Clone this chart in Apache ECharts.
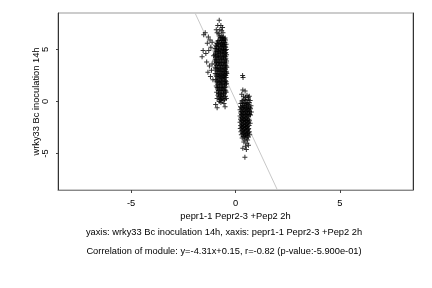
<!DOCTYPE html>
<html>
<head>
<meta charset="utf-8">
<script src="https://cdn.jsdelivr.net/npm/echarts@6/dist/echarts.min.js"></script>
<style>html,body{margin:0;padding:0;background:#fff}#c{width:432px;height:288px}</style>
</head>
<body>
<div id="c"></div>
<script>
var xTicks = [-5, 0, 5];
var yTicks = [-5, 0, 5];
var slope = -4.31, intercept = 0.15;
var xName = 'pepr1-1 Pepr2-3 +Pep2 2h';
var yName = 'wrky33 Bc inoculation 14h';
var subtitle1 = 'yaxis: wrky33 Bc inoculation 14h, xaxis: pepr1-1 Pepr2-3 +Pep2 2h';
var subtitle2 = 'Correlation of module: y=-4.31x+0.15, r=-0.82 (p-value:-5.900e-01)';

var cluster1 = [
[-0.78,7.8],[-0.85,7.3],[-0.70,7.3],[-0.62,7.1],[-0.92,6.9],[-0.75,6.9],[-0.66,6.8],[-0.88,6.6],[-0.60,6.6],[-0.80,6.5],
[-1.45,6.6],[-1.52,6.4],[-1.30,6.2],[-1.22,5.9],[-1.35,5.6],[-1.12,5.7],[-1.55,4.9],[-1.60,4.3],[-1.42,4.6],[-1.28,4.9],
[-1.18,5.2],[-1.38,3.8],[-1.25,3.4],[-1.15,3.0],[-1.32,2.8],[-1.20,2.4],[-1.08,2.1],[-1.12,3.6],[-1.05,4.4],
[-0.78,6.3],[-0.68,6.3],[-0.58,6.2],[-0.50,6.1],[-0.72,6.0],[-0.62,6.0],[-0.48,5.9],[-0.85,5.8],
[-0.90,5.6],[-0.76,5.7],[-0.66,5.6],[-0.55,5.7],[-0.45,5.5],[-0.95,5.4],[-0.82,5.4],[-0.70,5.3],[-0.60,5.4],[-0.50,5.3],
[-0.98,5.1],[-0.88,5.1],[-0.76,5.0],[-0.64,5.1],[-0.54,5.0],[-0.44,5.0],[-0.93,4.8],[-0.82,4.8],[-0.70,4.7],[-0.58,4.8],[-0.47,4.7],
[-0.99,4.5],[-0.87,4.5],[-0.75,4.4],[-0.63,4.5],[-0.52,4.4],[-0.43,4.5],[-0.94,4.2],[-0.80,4.2],[-0.68,4.1],[-0.57,4.2],[-0.46,4.1],
[-1.00,3.9],[-0.89,3.9],[-0.77,3.8],[-0.65,3.9],[-0.53,3.8],[-0.43,3.9],[-0.95,3.6],[-0.83,3.6],[-0.71,3.5],[-0.60,3.6],[-0.48,3.5],
[-0.98,3.3],[-0.86,3.3],[-0.74,3.2],[-0.62,3.3],[-0.51,3.2],[-0.42,3.3],[-0.92,3.0],[-0.80,3.0],[-0.68,2.9],[-0.56,3.0],[-0.45,2.9],
[-0.97,2.7],[-0.85,2.7],[-0.73,2.6],[-0.61,2.7],[-0.50,2.6],[-0.42,2.7],[-0.90,2.4],[-0.78,2.4],[-0.66,2.3],[-0.55,2.4],[-0.45,2.3],
[-0.95,2.1],[-0.83,2.1],[-0.71,2.0],[-0.59,2.1],[-0.48,2.0],[-0.88,1.8],[-0.76,1.8],[-0.64,1.7],[-0.52,1.8],[-0.43,1.7],
[-0.92,1.5],[-0.80,1.5],[-0.68,1.4],[-0.56,1.5],[-0.46,1.4],[-0.86,1.2],[-0.74,1.1],[-0.62,1.2],[-0.50,1.1],
[-0.90,0.9],[-0.78,0.8],[-0.66,0.9],[-0.54,0.8],[-0.45,0.9],[-0.84,0.6],[-0.72,0.5],[-0.60,0.6],[-0.48,0.5],
[-0.88,0.3],[-0.76,0.2],[-0.64,0.3],[-0.52,0.2],[-0.44,0.3],
[-0.95,-0.3],[-0.55,-0.2],[-0.88,-0.6],[-0.50,-0.5],[-0.70,-0.1],[-0.78,0.0]
];

var cluster1Fill = [
[-0.73,6.15],[-0.63,6.15],[-0.53,6.0],[-0.80,5.85],[-0.67,5.85],[-0.57,5.85],[-0.50,5.7],
[-0.86,5.55],[-0.72,5.5],[-0.62,5.55],[-0.52,5.5],[-0.91,5.25],[-0.80,5.25],[-0.68,5.2],[-0.57,5.25],[-0.47,5.2],
[-0.94,4.95],[-0.82,4.95],[-0.70,4.9],[-0.59,4.95],[-0.49,4.9],[-0.96,4.65],[-0.85,4.65],[-0.73,4.6],[-0.61,4.65],[-0.50,4.6],
[-0.92,4.35],[-0.81,4.35],[-0.69,4.3],[-0.57,4.35],[-0.47,4.3],[-0.97,4.05],[-0.85,4.05],[-0.73,4.0],[-0.61,4.05],[-0.49,4.0],
[-0.92,3.75],[-0.80,3.75],[-0.68,3.7],[-0.56,3.75],[-0.45,3.7],[-0.90,3.45],[-0.78,3.45],[-0.66,3.4],[-0.55,3.45],[-0.45,3.4],
[-0.95,3.15],[-0.83,3.15],[-0.71,3.1],[-0.59,3.15],[-0.48,3.1],[-0.88,2.85],[-0.76,2.85],[-0.64,2.8],[-0.53,2.85],[-0.44,2.8],
[-0.93,2.55],[-0.81,2.55],[-0.69,2.5],[-0.58,2.55],[-0.47,2.5],[-0.87,2.25],[-0.75,2.25],[-0.63,2.2],[-0.52,2.25],
[-0.90,1.95],[-0.79,1.95],[-0.67,1.9],[-0.55,1.95],[-0.45,1.9],[-0.85,1.65],[-0.73,1.65],[-0.61,1.6],[-0.49,1.65],
[-0.88,1.35],[-0.77,1.35],[-0.65,1.3],[-0.53,1.35],[-0.82,1.05],[-0.70,1.0],[-0.58,1.05],[-0.47,1.0],
[-0.81,0.75],[-0.69,0.7],[-0.57,0.75],[-0.80,0.45],[-0.68,0.4],[-0.56,0.45],[-0.70,0.15],[-0.60,0.1]
];

var cluster2 = [
[0.34,2.5],[0.36,2.3],[0.35,1.1],[0.46,1.0],[0.30,0.7],[0.55,0.6],[0.62,0.4],[0.66,0.5],[0.60,0.2],[0.70,0.1],
[0.32,0.1],[0.42,0.2],[0.50,0.1],
[0.26,-0.2],[0.36,-0.2],[0.46,-0.1],[0.56,-0.2],[0.66,-0.1],
[0.24,-0.5],[0.34,-0.4],[0.44,-0.5],[0.54,-0.4],[0.64,-0.5],[0.74,-0.4],
[0.22,-0.8],[0.32,-0.7],[0.42,-0.8],[0.52,-0.7],[0.62,-0.8],[0.72,-0.7],
[0.25,-1.1],[0.35,-1.0],[0.45,-1.1],[0.55,-1.0],[0.65,-1.1],[0.76,-1.0],
[0.22,-1.4],[0.32,-1.3],[0.42,-1.4],[0.52,-1.3],[0.62,-1.4],[0.72,-1.3],
[0.24,-1.7],[0.34,-1.6],[0.44,-1.7],[0.54,-1.6],[0.64,-1.7],
[0.22,-2.0],[0.32,-1.9],[0.42,-2.0],[0.52,-1.9],[0.62,-2.0],[0.70,-2.1],
[0.25,-2.3],[0.35,-2.2],[0.45,-2.3],[0.55,-2.2],[0.65,-2.3],
[0.23,-2.6],[0.33,-2.5],[0.43,-2.6],[0.53,-2.5],[0.63,-2.6],
[0.26,-2.9],[0.36,-2.8],[0.46,-2.9],[0.56,-2.8],[0.66,-2.9],
[0.28,-3.2],[0.38,-3.1],[0.48,-3.2],[0.58,-3.1],[0.68,-3.2],
[0.32,-3.5],[0.42,-3.4],[0.52,-3.5],[0.62,-3.4],
[0.40,-3.9],[0.55,-4.0],[0.62,-4.2],[0.48,-4.3],[0.35,-4.5],[0.52,-4.6],[0.45,-5.35]
];

var cluster2Fill = [
[0.38,0.45],[0.48,0.4],[0.31,-0.05],[0.41,-0.35],[0.51,-0.25],[0.61,-0.3],[0.29,-0.6],[0.39,-0.6],[0.49,-0.6],[0.59,-0.65],[0.69,-0.6],
[0.27,-0.95],[0.37,-0.9],[0.47,-0.95],[0.57,-0.9],[0.67,-0.95],[0.29,-1.25],[0.39,-1.2],[0.49,-1.25],[0.59,-1.2],[0.68,-1.25],
[0.27,-1.55],[0.37,-1.5],[0.47,-1.55],[0.57,-1.5],[0.28,-1.85],[0.38,-1.8],[0.48,-1.85],[0.58,-1.8],[0.67,-1.85],
[0.29,-2.15],[0.39,-2.1],[0.49,-2.15],[0.59,-2.1],[0.28,-2.45],[0.38,-2.4],[0.48,-2.45],[0.58,-2.4],
[0.30,-2.75],[0.40,-2.7],[0.50,-2.75],[0.60,-2.7],[0.33,-3.05],[0.43,-3.0],[0.53,-3.05],[0.63,-3.0],
[0.37,-3.35],[0.47,-3.3],[0.57,-3.3],[0.45,-3.7],[0.58,-3.7]
];

var yLo = -8.5, yHi = 8.5;
var fitLine = [[(yHi - intercept) / slope, yHi], [(yLo - intercept) / slope, yLo]];

var plusPath = 'path://M-1,-5H1V-1H5V1H1V5H-1V1H-5V-1H-1Z';
var font = 'Liberation Sans';
var fs = 9.3;

var chart = echarts.init(document.getElementById('c'), null, {renderer: 'canvas'});
var scatterStyle = {type: 'scatter', symbol: plusPath, symbolSize: 5, itemStyle: {color: '#000'}, z: 2};
chart.setOption({
  animation: false,
  backgroundColor: '#fff',
  grid: {left: 58, top: 13, right: 19, bottom: 98, show: true, borderColor: '#999', borderWidth: 1},
  xAxis: {
    type: 'value', min: -8.5, max: 8.5,
    name: xName, nameLocation: 'middle', nameGap: 22, nameMoveOverlap: false,
    nameTextStyle: {fontFamily: font, fontSize: fs, color: '#000'},
    splitLine: {show: false},
    axisLine: {show: true, onZero: false, lineStyle: {color: '#888', width: 1}},
    axisTick: {show: true, length: 3, customValues: xTicks, lineStyle: {color: '#444'}},
    axisLabel: {customValues: xTicks, margin: 9, fontFamily: font, fontSize: fs, color: '#000'}
  },
  yAxis: [{
    type: 'value', min: -8.5, max: 8.5,
    name: yName, nameLocation: 'middle', nameGap: 17, nameMoveOverlap: false,
    nameTextStyle: {fontFamily: font, fontSize: fs, color: '#000'},
    splitLine: {show: false},
    axisLine: {show: true, onZero: false, lineStyle: {color: '#333', width: 1}},
    axisTick: {show: true, length: 2, customValues: yTicks, lineStyle: {color: '#444'}},
    axisLabel: {customValues: yTicks, rotate: 90, margin: 8, fontFamily: font, fontSize: fs, color: '#000'}
  }, {
    type: 'value', min: -8.5, max: 8.5, position: 'right',
    splitLine: {show: false},
    axisLine: {show: true, onZero: false, lineStyle: {color: '#333', width: 1}},
    axisTick: {show: false}, axisLabel: {show: false}
  }],
  graphic: [
    {type: 'text', x: 224, y: 232, style: {text: subtitle1, fontFamily: font, fontSize: fs, fill: '#000', align: 'center', verticalAlign: 'middle'}},
    {type: 'text', x: 224, y: 251, style: {text: subtitle2, fontFamily: font, fontSize: fs, fill: '#000', align: 'center', verticalAlign: 'middle'}}
  ],
  series: [
    {type: 'line', data: fitLine, showSymbol: false, symbol: 'none', lineStyle: {color: '#c8c8c8', width: 1}, z: 1, silent: true},
    Object.assign({data: cluster1}, scatterStyle),
    Object.assign({data: cluster1Fill}, scatterStyle),
    Object.assign({data: cluster2}, scatterStyle),
    Object.assign({data: cluster2Fill}, scatterStyle)
  ]
});
</script>
</body>
</html>
